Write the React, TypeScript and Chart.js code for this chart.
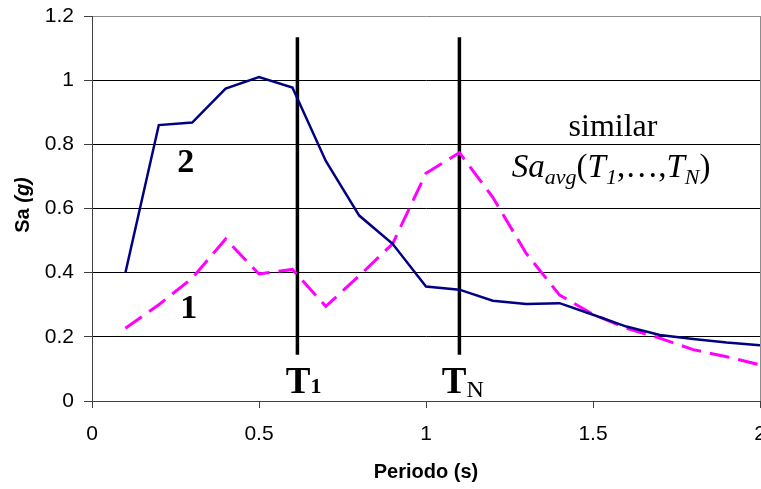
import React, { useEffect, useRef } from "react";
import { Chart, registerables } from "chart.js";

Chart.register(...registerables);

// ---- data ----
const PERIODS = [0.1, 0.2, 0.3, 0.4, 0.5, 0.6, 0.7, 0.8, 0.9, 1.0, 1.1, 1.2, 1.3, 1.4, 1.5, 1.6, 1.7, 1.8, 1.9, 2.0];
const SA_RECORD_2 = [0.4, 0.86, 0.868, 0.974, 1.01, 0.977, 0.748, 0.578, 0.49, 0.357, 0.347, 0.3125, 0.302, 0.305, 0.269, 0.232, 0.206, 0.193, 0.182, 0.174];
const SA_RECORD_1 = [0.227, 0.3, 0.383, 0.505, 0.396, 0.41, 0.295, 0.39, 0.49, 0.71, 0.774, 0.635, 0.46, 0.33, 0.27, 0.227, 0.196, 0.16, 0.138, 0.1125];
const T_PERIODS = [0.615, 1.1]; // T1, TN
const T_LINE_RANGE = [0.144, 1.134];
const X_TICKS = [0, 0.5, 1, 1.5, 2];
const Y_TICKS = [0, 0.2, 0.4, 0.6, 0.8, 1, 1.2];

type Run = { text: string; font: string; dy?: number };

function drawRuns(ctx: CanvasRenderingContext2D, x: number, y: number, runs: Run[], align: "left" | "center") {
  let total = 0;
  const widths = runs.map((r) => {
    ctx.font = r.font;
    const w = ctx.measureText(r.text).width;
    total += w;
    return w;
  });
  let cx = align === "center" ? x - total / 2 : x;
  ctx.textAlign = "left";
  runs.forEach((r, i) => {
    ctx.font = r.font;
    ctx.fillText(r.text, cx, y + (r.dy || 0));
    cx += widths[i];
  });
}

const SERIF = '"Liberation Serif", "Times New Roman", serif';
const SANS = '"Liberation Sans", Arial, sans-serif';

export default function App() {
  const ref = useRef<HTMLCanvasElement>(null);

  useEffect(() => {
    const annotations = {
      id: "annotations",
      afterDatasetsDraw(chart: any) {
        const { ctx, scales } = chart;
        const xs = scales.x;
        const ys = scales.y;
        const px = (v: number) => xs.getPixelForValue(v);
        const py = (v: number) => ys.getPixelForValue(v);
        ctx.save();
        ctx.fillStyle = "#000";
        ctx.textBaseline = "alphabetic";
        // curve labels
        drawRuns(ctx, px(0.281), py(0.7125), [{ text: "2", font: `bold 34px ${SERIF}` }], "center");
        drawRuns(ctx, px(0.29), py(0.259), [{ text: "1", font: `bold 34px ${SERIF}` }], "center");
        // period labels
        drawRuns(ctx, px(0.58), py(0.025), [
          { text: "T", font: `bold 37px ${SERIF}` },
          { text: "1", font: `bold 22px ${SERIF}` },
        ], "left");
        drawRuns(ctx, px(1.047), py(0.025), [
          { text: "T", font: `bold 37px ${SERIF}` },
          { text: "N", font: `24px ${SERIF}`, dy: 4 },
        ], "left");
        // text block
        drawRuns(ctx, px(1.56), py(0.825), [{ text: "similar", font: `32px ${SERIF}` }], "center");
        drawRuns(ctx, px(1.257), py(0.697), [
          { text: "Sa", font: `italic 33px ${SERIF}` },
          { text: "avg", font: `italic 22px ${SERIF}`, dy: 7 },
          { text: "(", font: `33px ${SERIF}` },
          { text: "T", font: `italic 33px ${SERIF}` },
          { text: "1", font: `italic 22px ${SERIF}`, dy: 7 },
          { text: ",…,", font: `33px ${SERIF}` },
          { text: "T", font: `italic 33px ${SERIF}` },
          { text: "N", font: `italic 22px ${SERIF}`, dy: 7 },
          { text: ")", font: `33px ${SERIF}` },
        ], "left");
        // y axis title
        ctx.translate(23, 205);
        ctx.rotate(-Math.PI / 2);
        ctx.textBaseline = "middle";
        drawRuns(ctx, 0, 0, [
          { text: "Sa ", font: `bold 20px ${SANS}` },
          { text: "(g)", font: `italic bold 20px ${SANS}` },
        ], "center");
        ctx.restore();
      },
    };

    const fmt = (v: any) => String(Math.round(Number(v) * 10) / 10);

    const chart = new Chart(ref.current as HTMLCanvasElement, {
      type: "line",
      data: {
        datasets: [
          {
            label: "2",
            data: PERIODS.map((p, i) => ({ x: p, y: SA_RECORD_2[i] })),
            borderColor: "#000080",
            borderWidth: 2.5,
            pointRadius: 0,
            tension: 0,
          },
          {
            label: "1",
            data: PERIODS.map((p, i) => ({ x: p, y: SA_RECORD_1[i] })),
            borderColor: "#FF00FF",
            borderWidth: 3,
            borderDash: [20, 9],
            pointRadius: 0,
            tension: 0,
          },
          ...T_PERIODS.map((t, i) => ({
            label: i === 0 ? "T1" : "TN",
            data: [
              { x: t, y: T_LINE_RANGE[0] },
              { x: t, y: T_LINE_RANGE[1] },
            ],
            borderColor: "#000",
            borderWidth: 3.5,
            pointRadius: 0,
          })),
        ],
      },
      options: {
        animation: false,
        responsive: true,
        maintainAspectRatio: false,
        layout: { padding: { top: 16, right: 40, left: 0, bottom: 0 } },
        plugins: { legend: { display: false }, tooltip: { enabled: false } },
        scales: {
          x: {
            type: "linear",
            min: 0,
            max: 2,
            afterBuildTicks: (s: any) => {
              s.ticks = X_TICKS.map((v) => ({ value: v }));
            },
            afterFit: (s: any) => {
              s.height = 88;
              s.paddingLeft = 0;
              s.paddingRight = 0;
            },
            grid: {
              drawOnChartArea: true,
              color: (c: any) => (c.tick && Math.abs(c.tick.value - 2) < 1e-6 ? "#8c8c8c" : "rgba(0,0,0,0)"),
              tickColor: "#404040",
              tickLength: 7,
              lineWidth: 1,
            },
            border: { display: true, color: "#404040", width: 1 },
            ticks: {
              callback: fmt,
              color: "#000",
              font: { family: SANS, size: 21 },
              padding: 14,
              maxRotation: 0,
            },
            title: {
              display: true,
              text: "Periodo (s)",
              color: "#000",
              font: { family: SANS, size: 20, weight: "bold" },
              padding: { top: 0, bottom: 5 },
            },
          },
          y: {
            type: "linear",
            min: 0,
            max: 1.2,
            afterBuildTicks: (s: any) => {
              s.ticks = Y_TICKS.map((v) => ({ value: v }));
            },
            afterFit: (s: any) => {
              s.width = 92;
              s.paddingTop = 0;
              s.paddingBottom = 0;
            },
            grid: {
              color: (c: any) =>
                c.tick && Math.abs(c.tick.value - 1.2) < 1e-6
                  ? "#8c8c8c"
                  : c.tick && c.tick.value === 0
                  ? "#404040"
                  : "#000",
              tickColor: "#404040",
              tickLength: 8,
              lineWidth: 1,
            },
            border: { display: true, color: "#404040", width: 1 },
            ticks: {
              callback: fmt,
              color: "#000",
              font: { family: SANS, size: 21 },
              padding: 10,
            },
          },
        },
      },
      plugins: [annotations],
    } as any);

    return () => chart.destroy();
  }, []);

  return (
    <div style={{ position: "fixed", left: 0, top: 0, width: 761, height: 489, overflow: "hidden", background: "#fff" }}>
      <div style={{ position: "relative", width: 800, height: 489 }}>
        <canvas ref={ref} />
      </div>
    </div>
  );
}
